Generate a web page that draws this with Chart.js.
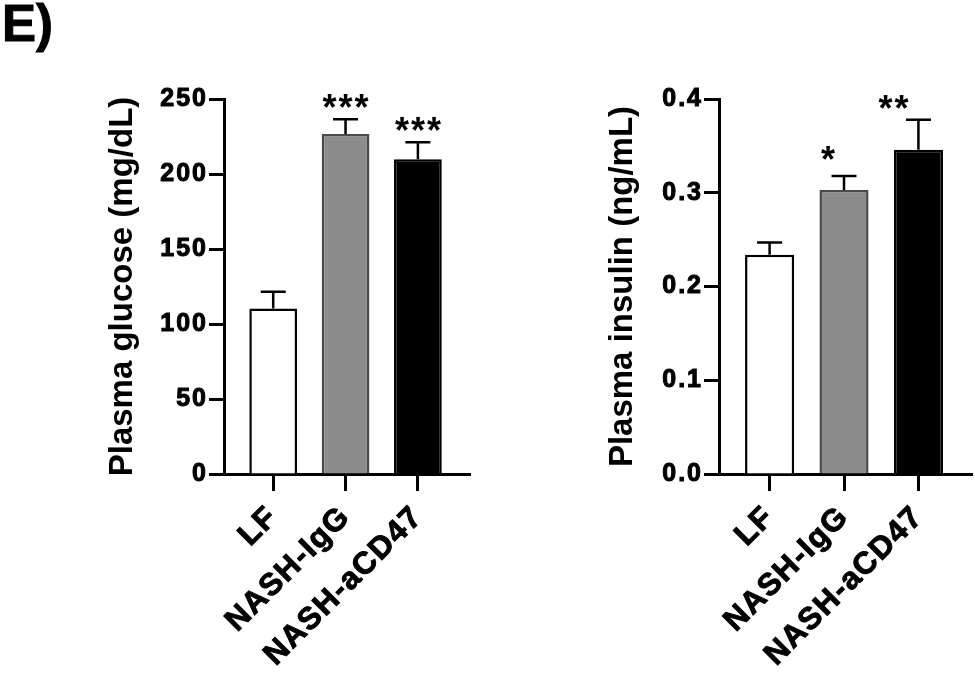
<!DOCTYPE html>
<html><head><meta charset="utf-8">
<script src="https://cdn.jsdelivr.net/npm/chart.js@4/dist/chart.umd.min.js"></script>
<style>
html,body{margin:0;padding:0;background:#fff;}
#wrap{position:relative;width:975px;height:683px;overflow:hidden;background:#fff;}
#panel{position:absolute;left:2px;top:-2px;font:bold 51px "Liberation Sans",Arial,sans-serif;line-height:1;color:#000;-webkit-text-stroke:1px #000;}
.c{position:absolute;top:0;height:683px;}
</style></head><body>
<div id="wrap">
<div id="panel">E)</div>
<div class="c" style="left:0;width:487px"><canvas id="c1" width="487" height="683"></canvas></div>
<div class="c" style="left:487px;width:488px"><canvas id="c2" width="488" height="683"></canvas></div>
</div>
<script>
// ---- data ----
const categories = ['LF', 'NASH-IgG', 'NASH-aCD47'];
const glucoseMean = [110.4, 226.7, 209.9];
const glucoseSEM = [11.1, 9.8, 11.3];
const glucoseStars = ['', '***', '***'];
const glucoseTicks = [0, 50, 100, 150, 200, 250];
const insulinMean = [0.234, 0.303, 0.346];
const insulinSEM = [0.013, 0.015, 0.032];
const insulinStars = ['', '*', '**'];
const insulinTicks = [0, 0.1, 0.2, 0.3, 0.4];
const glucoseTitle = 'Plasma glucose (mg/dL)';
const insulinTitle = 'Plasma insulin (ng/mL)';

// ---- styles ----
const FAM = '"Liberation Sans", Arial, Helvetica, sans-serif';
const barFill = ['#ffffff', '#8c8c8c', '#000000'];
const barEdge = ['#000000', '#4a4a4a', '#000000'];

const errPlugin = {
  id: 'errbars',
  afterDatasetsDraw(chart, args, o) {
    const ctx = chart.ctx;
    const meta = chart.getDatasetMeta(0);
    const ys = chart.scales.y;
    ctx.save();
    ctx.strokeStyle = '#000';
    ctx.lineWidth = 2.5;
    meta.data.forEach((bar, i) => {
      const top = ys.getPixelForValue(o.mean[i] + o.sem[i]);
      ctx.beginPath();
      ctx.moveTo(bar.x, bar.y);
      ctx.lineTo(bar.x, top);
      ctx.moveTo(bar.x - 12.5, top);
      ctx.lineTo(bar.x + 12.5, top);
      ctx.stroke();
      if (o.stars[i]) {
        ctx.fillStyle = '#000';
        ctx.font = 'bold 36px ' + FAM;
        ctx.letterSpacing = '2px';
        ctx.textAlign = 'center';
        ctx.textBaseline = 'alphabetic';
        ctx.fillText(o.stars[i], bar.x + o.dx[i] + 1, top + 1 + o.dy[i]);
      }
    });
    ctx.restore();
  }
};

// draw tick labels with a little letter spacing
function spacedLabels(px) {
  return s => {
    if (s._spaced) return;
    const orig = s.drawLabels.bind(s);
    s.drawLabels = area => {
      s.ctx.save();
      s.ctx.letterSpacing = px;
      orig(area);
      s.ctx.restore();
    };
    s._spaced = true;
  };
}

function makeChart(id, cfg) {
  const axisLine = { display: true, width: 3, color: '#000' };
  return new Chart(document.getElementById(id), {
    type: 'bar',
    data: {
      datasets: [{
        data: cfg.mean.map((v, i) => ({ x: i + 1, y: v })),
        backgroundColor: barFill,
        borderColor: barEdge,
        borderWidth: 2.5,
        barPercentage: 0.66,
        categoryPercentage: 1
      }]
    },
    options: {
      responsive: false,
      animation: false,
      devicePixelRatio: 1,
      layout: { padding: { left: cfg.padL, right: cfg.padR, top: 99, bottom: 0 } },
      plugins: {
        legend: { display: false },
        tooltip: { enabled: false },
        errbars: { mean: cfg.mean, sem: cfg.sem, stars: cfg.stars, dx: cfg.dx, dy: cfg.dy }
      },
      scales: {
        x: {
          type: 'linear',
          min: 0.32, max: 3.72,
          offset: false,
          afterBuildTicks: s => { s.ticks = categories.map((c, i) => ({ value: i + 1 })); },
          afterFit: s => { s.height = 209; },
          afterUpdate: spacedLabels('1.5px'),
          ticks: {
            callback: v => categories[v - 1],
            minRotation: 45, maxRotation: 45, autoSkip: false,
            font: { family: FAM, weight: 'bold', size: 31 },
            textStrokeColor: '#000', textStrokeWidth: 1,
            color: '#000', padding: 8
          },
          grid: { display: true, offset: false, drawOnChartArea: false, drawTicks: true, tickLength: 17, tickWidth: 3, tickColor: '#000' },
          border: axisLine
        },
        y: {
          min: 0, max: cfg.ticks[cfg.ticks.length - 1],
          afterBuildTicks: s => { s.ticks = cfg.ticks.map(v => ({ value: v })); },
          afterFit: s => { s.width = cfg.yW; },
          afterUpdate: spacedLabels('2px'),
          ticks: {
            callback: cfg.fmt,
            font: { family: FAM, weight: 'bold', size: 25 },
            textStrokeColor: '#000', textStrokeWidth: 1,
            color: '#000', padding: 1
          },
          grid: { display: true, drawOnChartArea: false, drawTicks: true, tickLength: 15, tickWidth: 3, tickColor: '#000' },
          border: axisLine,
          title: { display: true, text: cfg.title, font: { family: FAM, weight: 'bold', size: 33 }, color: '#000', padding: 0 }
        }
      }
    },
    plugins: [errPlugin]
  });
}

makeChart('c1', {
  mean: glucoseMean, sem: glucoseSEM, stars: glucoseStars, ticks: glucoseTicks,
  title: glucoseTitle, fmt: v => String(v),
  padL: 103, yW: 121, padR: 17, dx: [0, 0, 0], dy: [0, 0, 0]
});
makeChart('c2', {
  mean: insulinMean, sem: insulinSEM, stars: insulinStars, ticks: insulinTicks,
  title: insulinTitle, fmt: v => Number(v).toFixed(1),
  padL: 116, yW: 116, padR: 3, dx: [0, -16, -25], dy: [0, -5, 0]
});
</script>
</body></html>
